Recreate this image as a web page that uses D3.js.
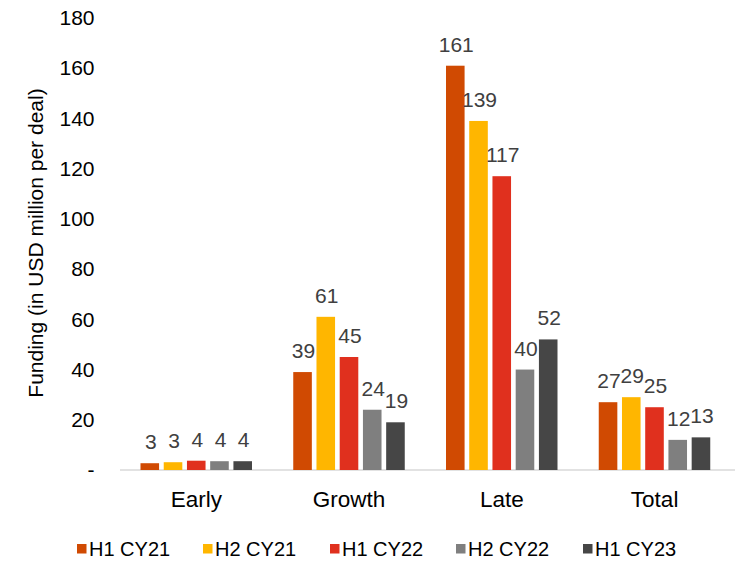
<!DOCTYPE html>
<html>
<head>
<meta charset="utf-8">
<script src="https://cdn.jsdelivr.net/npm/d3@7"></script>
<style>
  body { margin: 0; background: #fff; }
  svg text { font-family: "Liberation Sans", Arial, sans-serif; }
</style>
</head>
<body>
<div id="chart"></div>
<script>
// chart data
var categories = ["Early", "Growth", "Late", "Total"];
var seriesNames = ["H1 CY21", "H2 CY21", "H1 CY22", "H2 CY22", "H1 CY23"];
var seriesColors = ["#D04A02", "#FFB600", "#E0301E", "#7F7F7F", "#464646"];
// values per series, in category order
var h1cy21 = [2.7, 39, 161, 27];
var h2cy21 = [3.1, 61, 139, 29];
var h1cy22 = [3.7, 45, 117, 25];
var h2cy22 = [3.5, 24, 40, 12];
var h1cy23 = [3.5, 19, 52, 13];
var yTicks = [0, 20, 40, 60, 80, 100, 120, 140, 160, 180];

var seriesValues = [h1cy21, h2cy21, h1cy22, h2cy22, h1cy23];

var w = 735, h = 562;

var svg = d3.select("#chart")
  .append("svg")
  .attr("width", w)
  .attr("height", h);

var x0 = d3.scaleBand().domain(categories).range([120, 731]);
var x1 = d3.scaleBand().domain(seriesNames).range([20.5, 132]).paddingInner(0.2);
var y = d3.scaleLinear().domain([0, 180]).range([470, 18]);

// y axis labels only
var yAxis = svg.append("g")
  .attr("transform", "translate(120,0)")
  .call(d3.axisLeft(y).tickValues(yTicks).tickSize(0).tickPadding(25.5)
    .tickFormat(function(d) { return d === 0 ? "-" : d; }));
yAxis.select(".domain").remove();
yAxis.selectAll("text")
  .attr("font-size", 21)
  .attr("fill", "#000")
  .style("font-family", "Liberation Sans, Arial, sans-serif");

// baseline
svg.append("line")
  .attr("x1", 120).attr("x2", 735)
  .attr("y1", y(0)).attr("y2", y(0))
  .attr("stroke", "#D9D9D9")
  .attr("stroke-width", 1.5);

// bars
var groups = svg.selectAll("g.cat")
  .data(categories)
  .enter()
  .append("g")
  .attr("class", "cat")
  .attr("transform", function(d) { return "translate(" + x0(d) + ",0)"; });

groups.selectAll("rect")
  .data(function(c, ci) {
    return seriesNames.map(function(s, si) {
      return { s: s, v: seriesValues[si][ci], color: seriesColors[si] };
    });
  })
  .enter()
  .append("rect")
  .attr("x", function(d) { return x1(d.s); })
  .attr("width", x1.bandwidth())
  .attr("y", function(d) { return y(d.v); })
  .attr("height", function(d) { return y(0) - y(d.v); })
  .attr("fill", function(d) { return d.color; });

groups.selectAll("text.val")
  .data(function(c, ci) {
    return seriesNames.map(function(s, si) {
      return { s: s, v: seriesValues[si][ci] };
    });
  })
  .enter()
  .append("text")
  .attr("class", "val")
  .attr("x", function(d) { return x1(d.s) + x1.bandwidth() / 2 + 1; })
  .attr("y", function(d) { return y(d.v) - 14; })
  .attr("text-anchor", "middle")
  .attr("font-size", 21)
  .attr("fill", "#404040")
  .text(function(d) { return Math.round(d.v); });

// category labels
svg.selectAll("text.cat")
  .data(categories)
  .enter()
  .append("text")
  .attr("class", "cat")
  .attr("x", function(d) { return x0(d) + x0.bandwidth() / 2; })
  .attr("y", 507)
  .attr("text-anchor", "middle")
  .attr("font-size", 22.5)
  .attr("fill", "#000")
  .text(function(d) { return d; });

// y axis title
svg.append("text")
  .attr("transform", "translate(43,243) rotate(-90)")
  .attr("text-anchor", "middle")
  .attr("font-size", 21)
  .attr("fill", "#000")
  .text("Funding (in USD million per deal)");

// legend
var legendX = [77, 203, 330, 456, 583];
var legend = svg.selectAll("g.legend")
  .data(seriesNames)
  .enter()
  .append("g")
  .attr("class", "legend")
  .attr("transform", function(d, i) { return "translate(" + legendX[i] + ",544)"; });

legend.append("rect")
  .attr("width", 9.5).attr("height", 9.5)
  .attr("fill", function(d, i) { return seriesColors[i]; });

legend.append("text")
  .attr("x", 12)
  .attr("y", 11.5)
  .attr("font-size", 20)
  .attr("fill", "#000")
  .text(function(d) { return d; });
</script>
</body>
</html>
